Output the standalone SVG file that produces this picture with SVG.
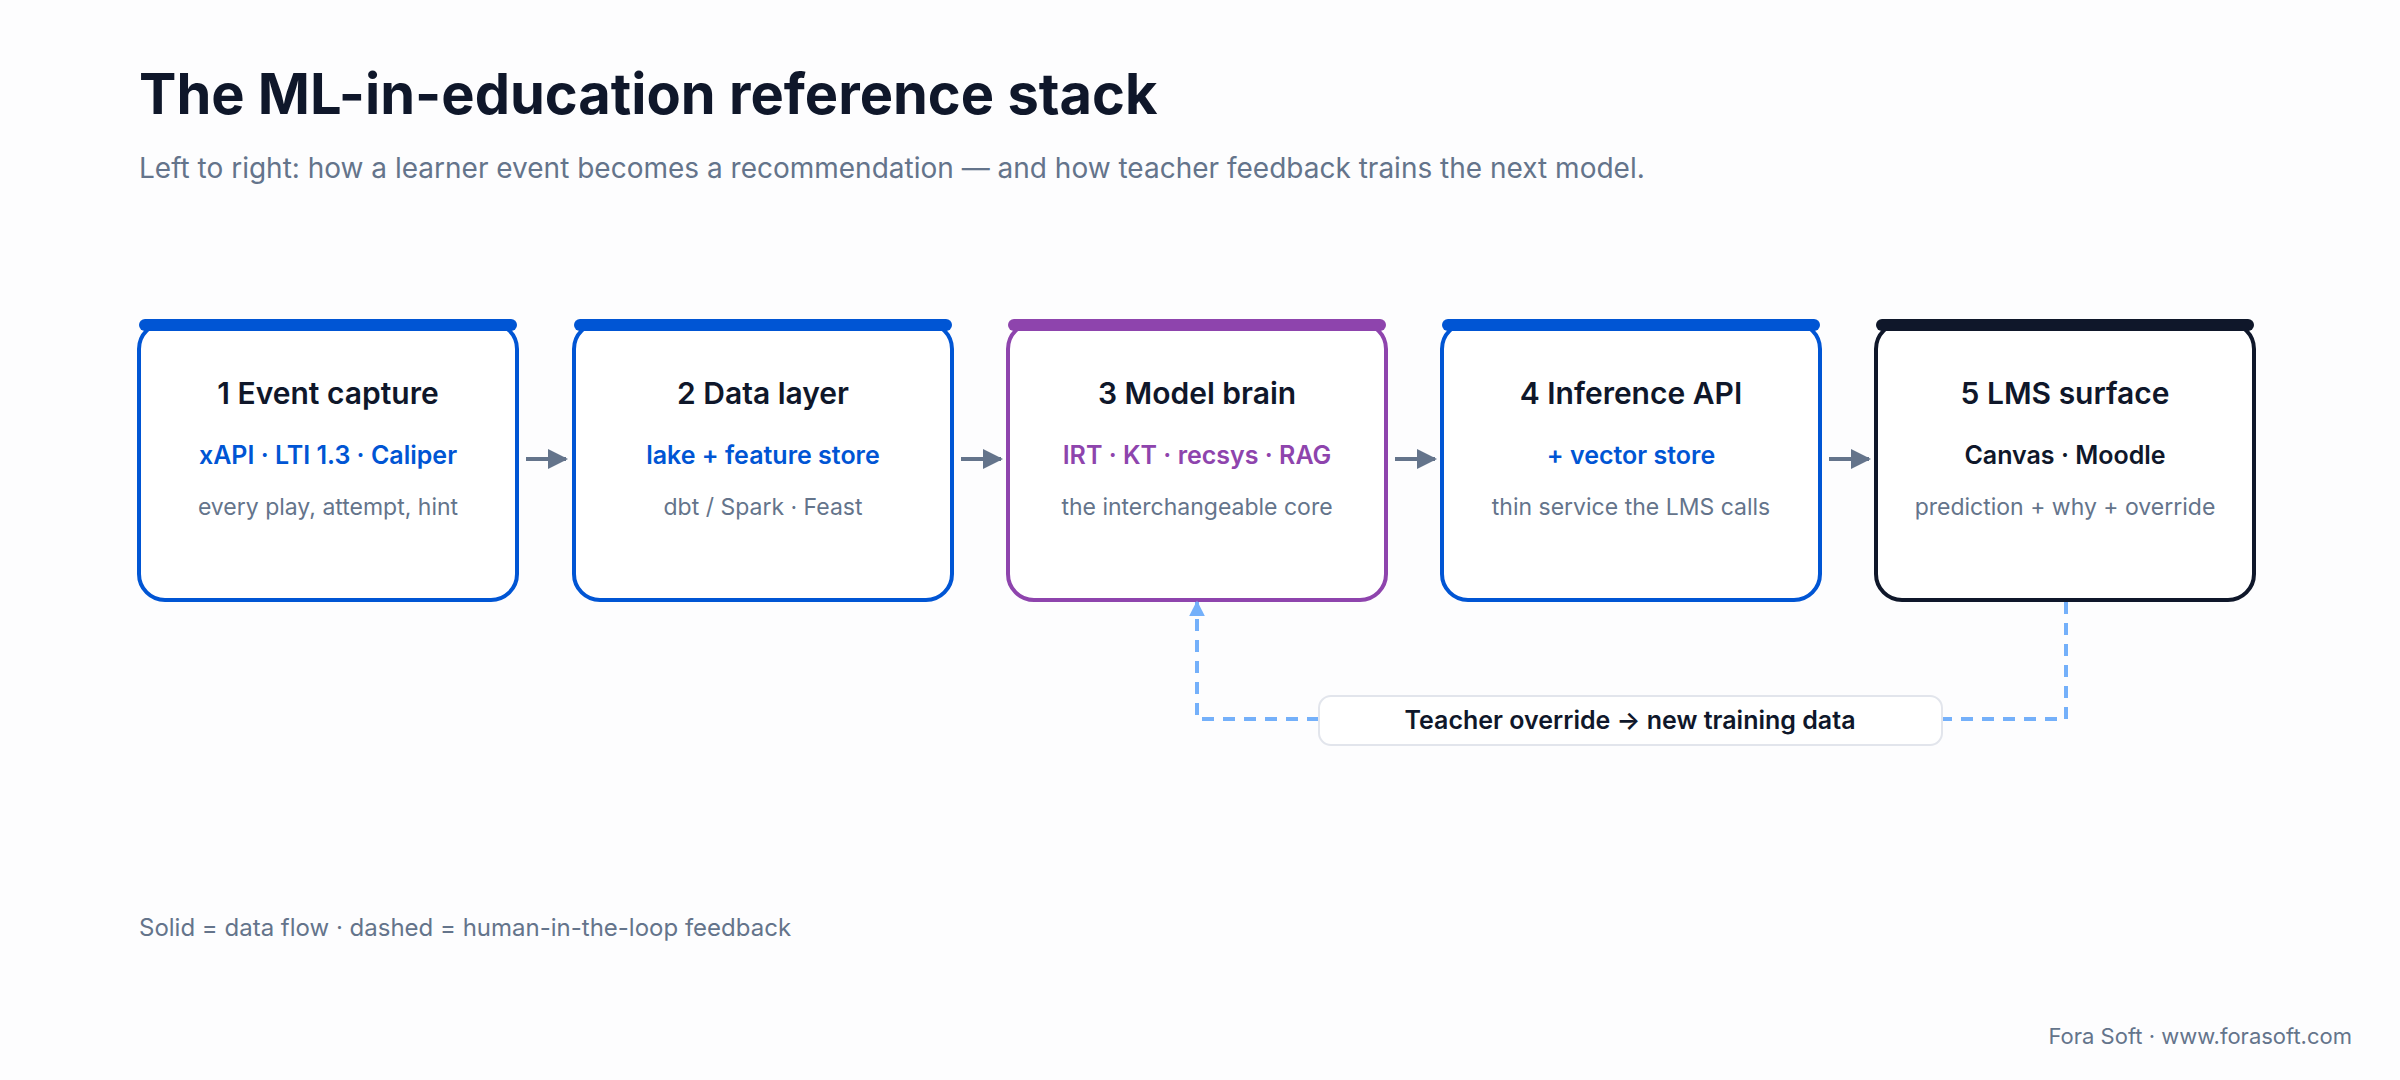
<svg xmlns="http://www.w3.org/2000/svg" width="2400" height="1080" viewBox="0 0 2400 1080">
<defs>
<marker id="ah" viewBox="0 0 10 10" refX="9" refY="5" markerWidth="5" markerHeight="5" orient="auto"><path d="M0,0L10,5L0,10z" fill="#64748b"/></marker>
<marker id="ahb" viewBox="0 0 10 10" refX="9" refY="5" markerWidth="4" markerHeight="4" orient="auto"><path d="M0,0L10,5L0,10z" fill="#74b0fa"/></marker>
</defs>
<style>
text{font-family:Inter,"Liberation Sans",sans-serif}
.box{fill:#fff;stroke-width:4}
.t{font-size:30px;font-weight:600;fill:#0f172a;text-anchor:middle}
.s{font-size:25px;font-weight:600;text-anchor:middle}
.d{font-size:23px;fill:#64748b;text-anchor:middle}
.flow{stroke:#64748b;stroke-width:4;fill:none;marker-end:url(#ah)}
.fb{stroke:#74b0fa;stroke-width:4;fill:none;stroke-dasharray:12 9}
</style>
<rect width="2400" height="1080" fill="#fdfdfe"/>
<text x="139" y="114" font-size="56" font-weight="700" fill="#0f172a">The ML-in-education reference stack</text>
<text x="139" y="178" font-size="28" fill="#64748b">Left to right: how a learner event becomes a recommendation — and how teacher feedback trains the next model.</text>
<g id="n1"><rect class="box" x="139" y="323" width="378" height="277" rx="26" stroke="#0055d4"/><rect x="139" y="319" width="378" height="12" rx="6" fill="#0055d4"/>
<text class="t" x="328" y="404">1 Event capture</text><text class="s" x="328" y="464" fill="#0055d4">xAPI · LTI 1.3 · Caliper</text><text class="d" x="328" y="515">every play, attempt, hint</text></g>
<g id="n2"><rect class="box" x="574" y="323" width="378" height="277" rx="26" stroke="#0055d4"/><rect x="574" y="319" width="378" height="12" rx="6" fill="#0055d4"/>
<text class="t" x="763" y="404">2 Data layer</text><text class="s" x="763" y="464" fill="#0055d4">lake + feature store</text><text class="d" x="763" y="515">dbt / Spark · Feast</text></g>
<g id="n3"><rect class="box" x="1008" y="323" width="378" height="277" rx="26" stroke="#8e44ad"/><rect x="1008" y="319" width="378" height="12" rx="6" fill="#8e44ad"/>
<text class="t" x="1197" y="404">3 Model brain</text><text class="s" x="1197" y="464" fill="#8e44ad">IRT · KT · recsys · RAG</text><text class="d" x="1197" y="515">the interchangeable core</text></g>
<g id="n4"><rect class="box" x="1442" y="323" width="378" height="277" rx="26" stroke="#0055d4"/><rect x="1442" y="319" width="378" height="12" rx="6" fill="#0055d4"/>
<text class="t" x="1631" y="404">4 Inference API</text><text class="s" x="1631" y="464" fill="#0055d4">+ vector store</text><text class="d" x="1631" y="515">thin service the LMS calls</text></g>
<g id="n5"><rect class="box" x="1876" y="323" width="378" height="277" rx="26" stroke="#0f172a"/><rect x="1876" y="319" width="378" height="12" rx="6" fill="#0f172a"/>
<text class="t" x="2065" y="404">5 LMS surface</text><text class="s" x="2065" y="464" fill="#0f172a">Canvas · Moodle</text><text class="d" x="2065" y="515">prediction + why + override</text></g>
<g id="connectors">
<line class="flow" x1="526" y1="459" x2="566" y2="459"/>
<line class="flow" x1="961" y1="459" x2="1001" y2="459"/>
<line class="flow" x1="1395" y1="459" x2="1435" y2="459"/>
<line class="flow" x1="1829" y1="459" x2="1869" y2="459"/>
<path class="fb" d="M2066,602V719H1942"/>
<path class="fb" d="M1319,719H1197V602" marker-end="url(#ahb)"/>
</g>
<g id="label"><rect x="1319" y="696" width="623" height="49" rx="12" fill="#fff" stroke="#e2e5ec" stroke-width="2"/>
<text x="1630" y="729" font-size="25" font-weight="600" fill="#0f172a" text-anchor="middle">Teacher override → new training data</text></g>
<text x="139" y="936" font-size="24" fill="#64748b">Solid = data flow · dashed = human-in-the-loop feedback</text>
<text x="2352" y="1044" font-size="22" fill="#64748b" text-anchor="end">Fora Soft · www.forasoft.com</text>
</svg>
